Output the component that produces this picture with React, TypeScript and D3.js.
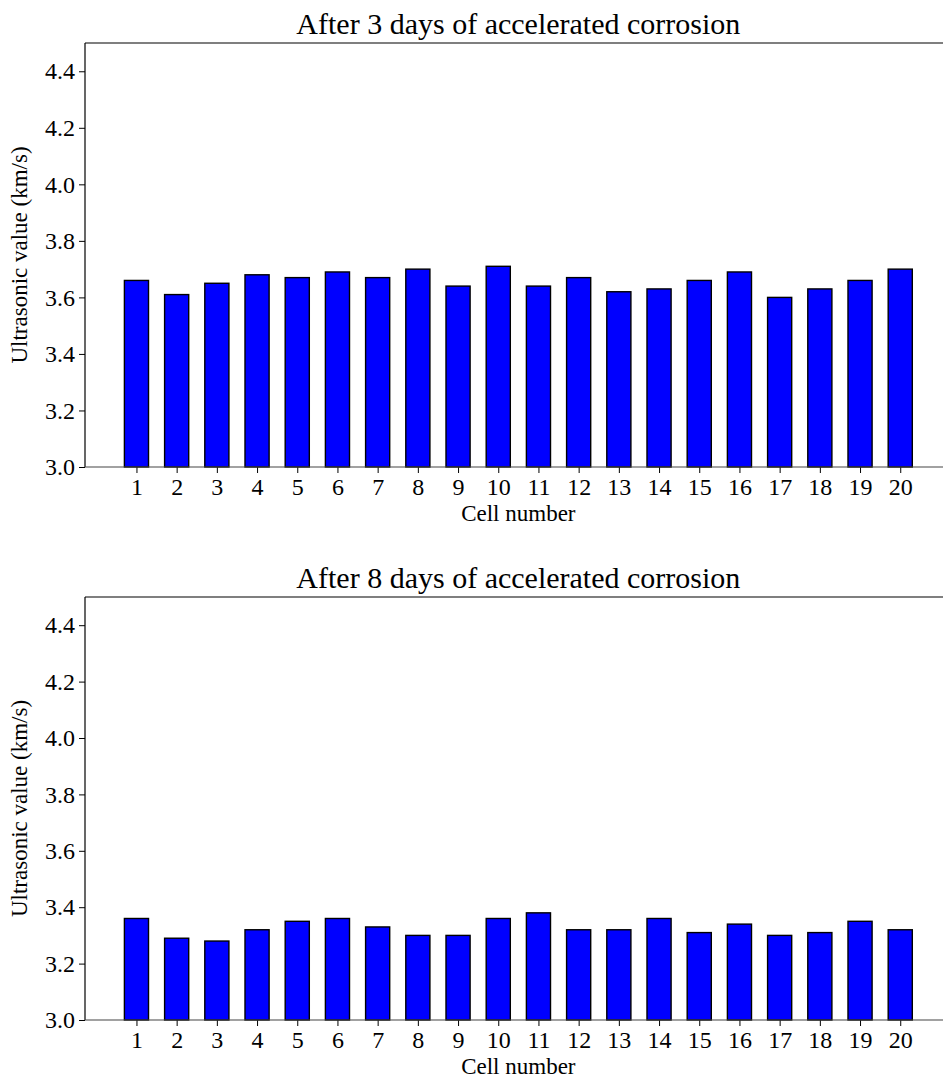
import * as d3 from "d3";
import { useEffect, useRef } from "react";

// Cell numbers on the x axis
const cells = d3.range(1, 21);

// Ultrasonic values (km/s)
const day3Values = [
  3.66, 3.61, 3.65, 3.68, 3.67, 3.69, 3.67, 3.7, 3.64, 3.71,
  3.64, 3.67, 3.62, 3.63, 3.66, 3.69, 3.6, 3.63, 3.66, 3.7,
];
const day8Values = [
  3.36, 3.29, 3.28, 3.32, 3.35, 3.36, 3.33, 3.3, 3.3, 3.36,
  3.38, 3.32, 3.32, 3.36, 3.31, 3.34, 3.3, 3.31, 3.35, 3.32,
];

const panelTitles = [
  "After 3 days of accelerated corrosion",
  "After 8 days of accelerated corrosion",
];
const yTicks = [3.0, 3.2, 3.4, 3.6, 3.8, 4.0, 4.2, 4.4];
const yDomain = [3.0, 4.5];

const width = 943;
const height = 1079;
const font = "'Liberation Serif', 'Times New Roman', serif";

const App = () => {
  const svgRef = useRef(null);

  useEffect(() => {
    if (!svgRef.current) return;
    const svg = d3.select(svgRef.current);
    svg.selectAll("*").remove();

    const left = 85;
    const right = 951.7; // right spine falls just outside the picture
    const barWidth = 0.6;

    const x = d3.scaleLinear().domain([-0.28, 21.28]).range([left, right]);

    const panels = [
      { top: 43, bottom: 467, values: day3Values, title: panelTitles[0] },
      { top: 597, bottom: 1020, values: day8Values, title: panelTitles[1] },
    ];

    panels.forEach((p) => {
      const y = d3.scaleLinear().domain(yDomain).range([p.bottom, p.top]);
      const g = svg.append("g");

      // bars
      g.append("g")
        .selectAll("rect")
        .data(p.values)
        .join("rect")
        .attr("x", (_d, i) => x(cells[i] - barWidth / 2))
        .attr("width", x(barWidth) - x(0))
        .attr("y", (d) => y(d))
        .attr("height", (d) => y(yDomain[0]) - y(d))
        .attr("fill", "#0000ff")
        .attr("stroke", "#000")
        .attr("stroke-width", 1.4);

      // y axis
      const yAxis = g
        .append("g")
        .attr("transform", `translate(${left},0)`)
        .call(
          d3
            .axisLeft(y)
            .tickValues(yTicks)
            .tickFormat(d3.format(".1f"))
            .tickSize(6)
            .tickPadding(4)
        );
      yAxis.select(".domain").remove();

      // x axis
      const xAxis = g
        .append("g")
        .attr("transform", `translate(0,${p.bottom})`)
        .call(d3.axisBottom(x).tickValues(cells).tickFormat(d3.format("d")).tickSize(6).tickPadding(5));
      xAxis.select(".domain").remove();

      [yAxis, xAxis].forEach((ax) => {
        ax.attr("font-family", font);
        ax.selectAll("text")
          .attr("font-family", font)
          .attr("font-size", 24)
          .attr("fill", "#000");
        ax.selectAll("line").attr("stroke", "#000").attr("stroke-width", 1);
      });

      // spines
      g.append("line")
        .attr("x1", left).attr("x2", right)
        .attr("y1", p.top).attr("y2", p.top)
        .attr("stroke", "#000").attr("stroke-width", 1.2);
      g.append("line")
        .attr("x1", left).attr("x2", left)
        .attr("y1", p.top).attr("y2", p.bottom)
        .attr("stroke", "#000").attr("stroke-width", 1.2);
      g.append("line")
        .attr("x1", left).attr("x2", right)
        .attr("y1", p.bottom).attr("y2", p.bottom)
        .attr("stroke", "#444").attr("stroke-width", 1.2);

      // title
      g.append("text")
        .attr("x", (left + right) / 2)
        .attr("y", p.top - 9)
        .attr("text-anchor", "middle")
        .attr("font-family", font)
        .attr("font-size", 30)
        .text(p.title);

      // x label
      g.append("text")
        .attr("x", (left + right) / 2)
        .attr("y", p.bottom + 54)
        .attr("text-anchor", "middle")
        .attr("font-family", font)
        .attr("font-size", 23)
        .text("Cell number");

      // y label
      g.append("text")
        .attr("transform", `translate(27,${(p.top + p.bottom) / 2}) rotate(-90)`)
        .attr("text-anchor", "middle")
        .attr("font-family", font)
        .attr("font-size", 23)
        .text("Ultrasonic value (km/s)");
    });
  }, []);

  return (
    <div style={{ position: "absolute", left: 0, top: 0, width, height, background: "#fff" }}>
      <svg ref={svgRef} width={width} height={height} style={{ display: "block" }} />
    </div>
  );
};

export default App;
